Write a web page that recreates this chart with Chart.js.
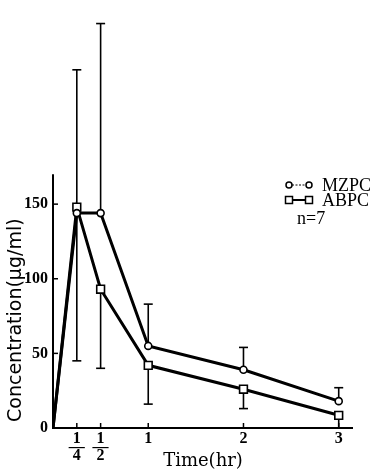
<!DOCTYPE html>
<html><head><meta charset="utf-8">
<script src="https://cdn.jsdelivr.net/npm/chart.js@4"></script>
<style>html,body{margin:0;padding:0;background:#fff}canvas{display:block}</style>
</head><body>
<canvas id="c" width="371" height="473"></canvas>
<script>
// ---- data ----
const times = [0, 0.25, 0.5, 1, 2, 3];
const mzpc = [0, 144, 144, 55, 39, 18];
const abpc = [0, 148, 93, 42, 26, 8.5];
const mzpcErrUp = [null, 96, 127, 28, 15, 9];
const abpcErrDown = [null, 103, 53, 26, 13, 8.5];
const xTicks = [0.25, 0.5, 1, 2, 3];
const xTickLabels = [["1", "—", "4"], ["1", "—", "2"], "1", "2", "3"];
const yTicks = [0, 50, 100, 150];
const seriesNames = ["MZPC", "ABPC"];
const sampleNote = "n=7";
const yAxisTitle = " Concentration(μg/ml)";
const xAxisTitle = "Time(hr)";
const yAxisTop = 170;

const decor = {
  id: 'decor',
  beforeDatasetsDraw(chart) {
    const {ctx, scales: {x, y}} = chart;
    const seg = (a, b, c, d) => { ctx.beginPath(); ctx.moveTo(a, b); ctx.lineTo(c, d); ctx.stroke(); };
    ctx.save();
    ctx.strokeStyle = '#000';
    ctx.lineWidth = 1.6;
    const cap = 4.5;
    times.forEach((t, i) => {
      const px = x.getPixelForValue(t);
      if (mzpcErrUp[i] != null) {
        const y0 = y.getPixelForValue(mzpc[i]), y1 = y.getPixelForValue(mzpc[i] + mzpcErrUp[i]);
        seg(px, y0, px, y1); seg(px - cap, y1, px + cap, y1);
      }
      if (abpcErrDown[i] != null) {
        const y0 = y.getPixelForValue(abpc[i]), y1 = y.getPixelForValue(abpc[i] - abpcErrDown[i]);
        seg(px, y0, px, y1); seg(px - cap, y1, px + cap, y1);
      }
    });
    // axes
    ctx.lineWidth = 2;
    const ox = x.getPixelForValue(0), oy = y.getPixelForValue(0);
    seg(ox - 1, oy, x.right, oy);
    seg(ox, oy + 1, ox, y.getPixelForValue(yAxisTop));
    ctx.lineWidth = 1.5;
    xTicks.forEach(v => { const p = x.getPixelForValue(v); seg(p, oy, p, oy - 5); });
    yTicks.forEach(v => { if (v > 0) { const p = y.getPixelForValue(v); seg(ox, p, ox + 5, p); } });
    ctx.restore();
  },
  afterDraw(chart) {
    const {ctx} = chart;
    ctx.save();
    ctx.strokeStyle = '#000';
    ctx.fillStyle = '#000';
    const sx1 = 289, sx2 = 309, ly = [185, 200];
    // MZPC symbol: circles with thin dashed link
    ctx.lineWidth = 1;
    ctx.setLineDash([2, 1.5]);
    ctx.beginPath(); ctx.moveTo(sx1 + 3, ly[0]); ctx.lineTo(sx2 - 3, ly[0]); ctx.stroke();
    ctx.setLineDash([]);
    ctx.lineWidth = 1.5;
    [sx1, sx2].forEach(cx => { ctx.beginPath(); ctx.arc(cx, ly[0], 3, 0, Math.PI * 2); ctx.fillStyle = '#fff'; ctx.fill(); ctx.stroke(); });
    // ABPC symbol: squares with solid link
    ctx.lineWidth = 2;
    ctx.beginPath(); ctx.moveTo(sx1 + 3, ly[1]); ctx.lineTo(sx2 - 3, ly[1]); ctx.stroke();
    ctx.lineWidth = 1.5;
    [sx1, sx2].forEach(cx => { ctx.fillStyle = '#fff'; ctx.fillRect(cx - 3.5, ly[1] - 3.5, 7, 7); ctx.strokeRect(cx - 3.5, ly[1] - 3.5, 7, 7); });
    ctx.fillStyle = '#000';
    ctx.font = '18px "Liberation Serif"';
    ctx.textBaseline = 'middle';
    ctx.textAlign = 'left';
    ctx.fillText(seriesNames[0], 322, ly[0] + 1);
    ctx.fillText(seriesNames[1], 322, ly[1] + 1);
    ctx.fillText(sampleNote, 297, 219);
    ctx.restore();
  }
};

const mk = (vals) => times.map((t, i) => ({x: t, y: vals[i]}));
const radii = times.map(t => t === 0 ? 0 : 1);

new Chart(document.getElementById('c'), {
  type: 'line',
  data: {
    datasets: [
      {label: seriesNames[0], data: mk(mzpc), borderColor: '#000', borderWidth: 3,
       pointStyle: 'circle', pointRadius: radii.map(r => r * 3.5), pointBorderWidth: 1.6,
       pointBackgroundColor: '#fff', pointBorderColor: '#000', tension: 0},
      {label: seriesNames[1], data: mk(abpc), borderColor: '#000', borderWidth: 3,
       pointStyle: 'rect', pointRadius: radii.map(r => r * 5.5), pointBorderWidth: 1.6,
       pointBackgroundColor: '#fff', pointBorderColor: '#000', tension: 0}
    ]
  },
  options: {
    responsive: false,
    devicePixelRatio: 1,
    animation: false,
    layout: {padding: {left: 0, right: 18, top: 0, bottom: 0}},
    plugins: {legend: {display: false}, tooltip: {enabled: false}},
    scales: {
      x: {
        type: 'linear', min: 0, max: 3.15,
        grid: {display: false, drawTicks: false},
        border: {display: false},
        afterBuildTicks: s => { s.ticks = xTicks.map(v => ({value: v})); },
        afterFit: s => { s.height = 45; },
        ticks: {
          autoSkip: false, maxRotation: 0, minRotation: 0, padding: 7, color: '#000',
          font: {family: '"Liberation Serif"', size: 16, weight: 'bold', lineHeight: '8.5px'},
          callback: (v, i) => xTickLabels[i]
        },
        title: {display: true, text: xAxisTitle, color: '#000',
                font: {family: '"DejaVu Serif"', size: 18}, padding: {top: 0, bottom: 1}}
      },
      y: {
        type: 'linear', min: 0, max: 277,
        grid: {display: false, drawTicks: false},
        border: {display: false},
        afterBuildTicks: s => { s.ticks = yTicks.map(v => ({value: v})); },
        afterFit: s => { s.width = 53; },
        ticks: {
          padding: 5, color: '#000',
          font: {family: '"Liberation Serif"', size: 16, weight: 'bold'},
          callback: v => String(v)
        },
        title: {display: true, text: yAxisTitle, align: 'start', color: '#000',
                font: {family: '"DejaVu Sans"', size: 19}, padding: {top: 5, bottom: 0}}
      }
    }
  },
  plugins: [decor]
});
</script>
</body></html>
